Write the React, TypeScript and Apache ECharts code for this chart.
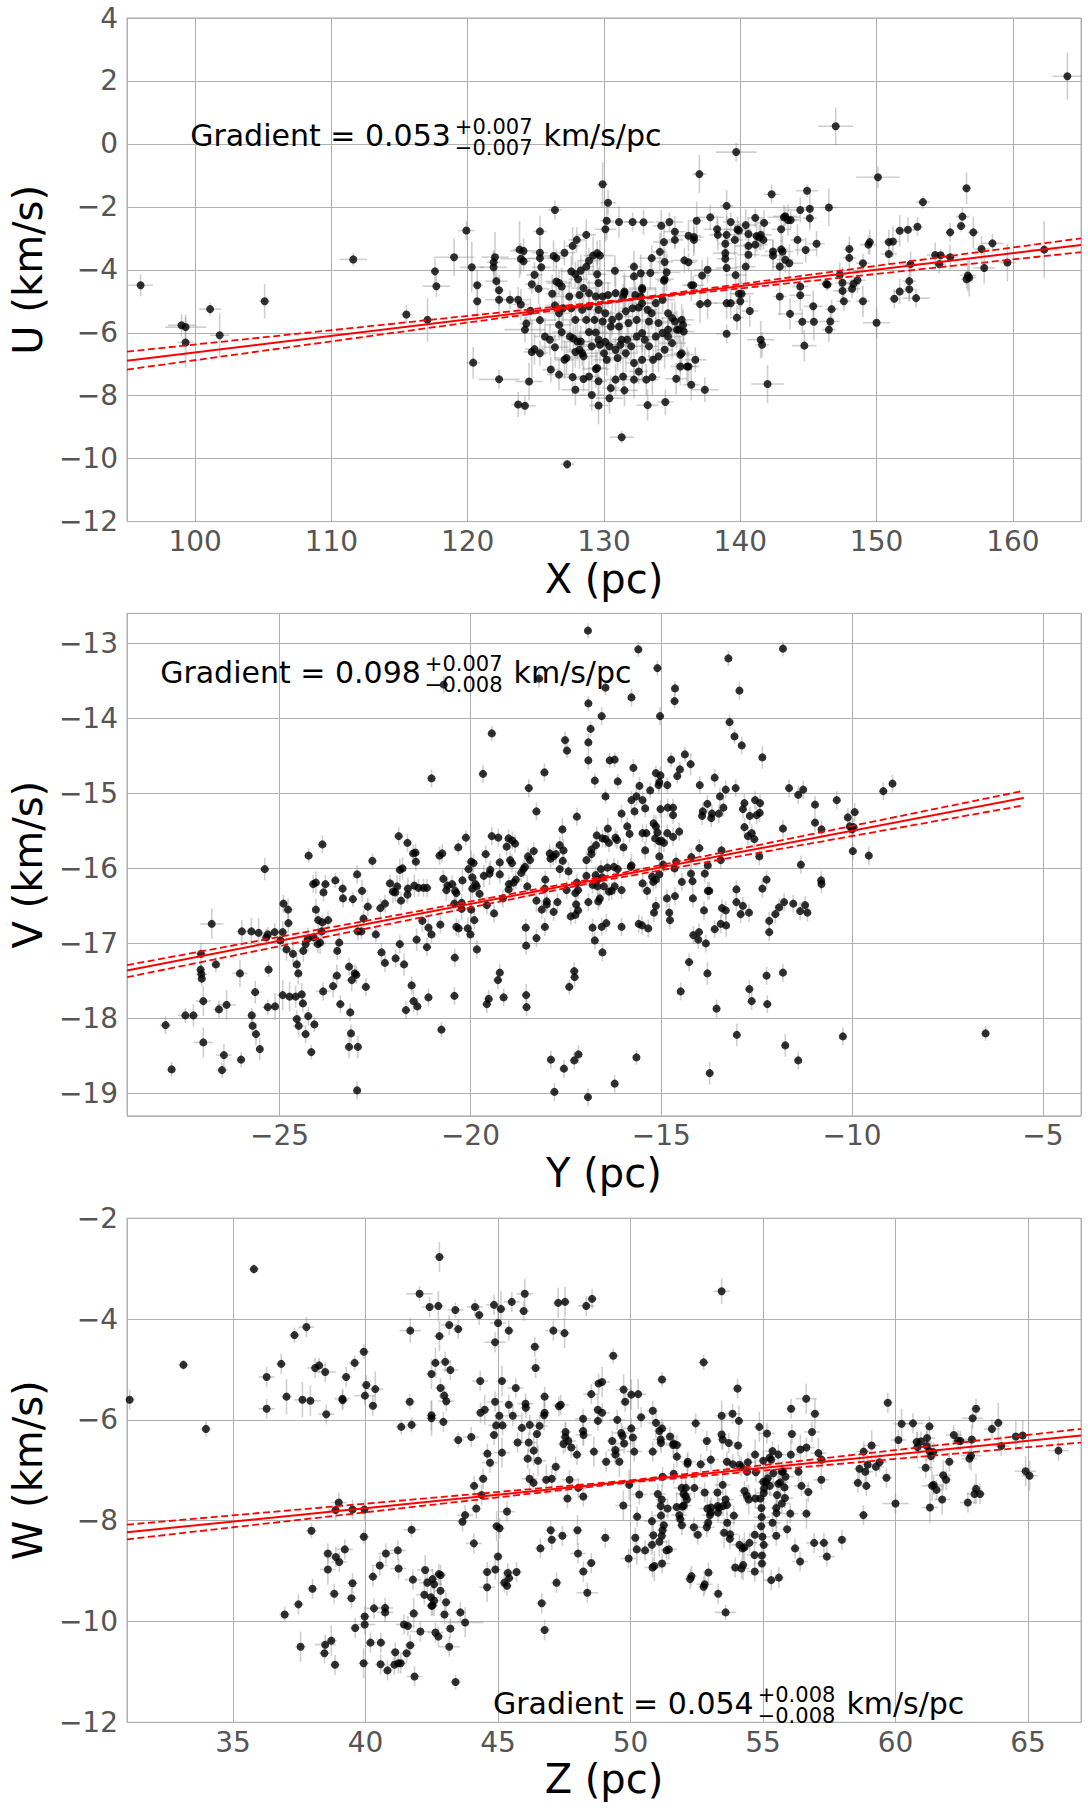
import React, { useEffect, useRef } from 'react';
import * as echarts from 'echarts';

const FONT = 'DejaVu Sans';

// ---------- Panel 1 : X (pc) vs U (km/s)  [x, y, xErr, yErr]
const xuData = [
[96.0,-4.49,0.9,0.35],[99.0,-5.76,1.0,0.35],[99.3,-5.82,1.5,0.4],[99.3,-6.31,0.6,0.8],[101.1,-5.25,0.8,0.2],[101.8,-6.08,0.7,0.7],[105.1,-5.0,0.4,0.55],[111.6,-3.67,1.0,0.2],[115.5,-5.42,0.4,0.3],[117.05,-5.59,0.4,0.7],[117.6,-4.05,0.3,0.4],[117.7,-4.52,1.0,0.35],[119.0,-3.6,1.5,0.6],[119.9,-2.75,0.6,0.3],[120.3,-3.92,0.9,0.8],[120.4,-6.95,0.5,0.5],[120.7,-4.49,0.4,0.5],[120.7,-5.0,0.3,0.6],[121.9,-3.92,1.0,0.5],[121.9,-3.76,0.5,0.4],[122.0,-3.6,1.0,0.8],[122.1,-4.36,0.8,0.4],[122.3,-4.65,0.4,0.5],[122.3,-4.95,1.0,0.6],[122.3,-7.48,1.5,0.3],[123.1,-4.95,0.6,0.3],[123.7,-4.95,0.8,0.4],[123.9,-5.1,0.6,0.5],[123.8,-3.36,0.5,0.9],[124.1,-3.4,1.0,0.4],[123.9,-3.65,1.5,0.5],[124.1,-3.73,0.5,0.3],[123.7,-8.28,0.5,0.4],[124.2,-8.32,0.8,0.3],[124.5,-7.55,1.0,0.6],[124.7,-6.61,0.6,1.0],[124.7,-4.46,0.5,0.3],[124.2,-5.9,1.5,0.4],[124.6,-5.3,1.0,0.4],[125.3,-2.78,0.5,0.5],[125.3,-3.46,0.6,0.5],[125.3,-3.63,0.9,0.4],[125.4,-3.92,0.7,0.6],[125.3,-5.6,1.2,0.5],[125.3,-6.65,0.6,0.4],
[124.9,-4.16,0.6,0.4],[125.2,-4.6,0.8,0.5],[124.3,-5.71,0.5,0.3],[124.9,-6.52,0.7,0.5],
[139.7,-0.26,1.5,0.3],[137.0,-0.96,0.5,0.6],[129.9,-1.28,0.4,0.7],[130.3,-1.87,0.6,0.4],[126.4,-2.1,0.5,0.3],[142.3,-1.6,0.6,0.3],[144.9,-1.49,0.8,0.2],[139.0,-1.97,0.5,0.5],[144.4,-2.1,1.0,0.4],[145.1,-2.06,0.3,0.6],[145.1,-2.36,0.5,0.4],
[143.3,-2.3,0.9,0.3],[143.5,-2.42,0.7,0.5],[143.7,-2.42,0.6,0.3],[143.2,-2.33,1.2,0.4],
[141.1,-2.35,0.6,0.3],[141.75,-2.51,0.5,0.4],[140.4,-2.58,0.8,0.5],[139.3,-2.48,0.6,0.3],[137.8,-2.33,1.0,0.4],[136.8,-2.44,0.5,0.6],[134.8,-2.48,1.0,0.3],[134.2,-2.6,0.6,0.5],[132.9,-2.49,0.8,0.4],[132.1,-2.48,0.6,0.3],[131.1,-2.48,0.9,0.5],[130.2,-2.44,0.5,0.6],[130.1,-2.71,0.8,0.4],
[128.7,-2.89,0.7,0.5],[128.0,-3.05,0.6,0.4],[127.7,-3.24,0.5,0.6],[127.1,-3.46,0.8,0.4],[126.3,-3.56,1.0,0.5],[126.5,-3.63,0.6,0.3],
[126.4,-5.13,0.7,0.5],[126.2,-4.76,0.5,0.6],[126.7,-4.42,0.9,0.4],
[127.6,-4.05,0.8,0.5],[127.9,-4.14,0.6,0.4],[128.3,-4.02,1.0,0.5],[128.1,-4.3,0.7,0.6],[128.2,-4.8,0.5,0.4],[128.5,-4.58,0.9,0.5],
[128.7,-3.9,0.6,0.5],[128.9,-3.71,0.8,0.4],[129.2,-3.55,0.7,0.6],[129.5,-3.47,0.5,0.4],[129.7,-3.55,1.0,0.5],
[129.5,-4.14,0.7,0.6],[129.6,-4.42,0.9,0.5],
[130.8,-4.03,0.6,0.5],[131.5,-4.69,0.8,0.6],[131.4,-4.85,1.1,0.4],
[132.2,-3.9,0.5,0.5],[132.2,-4.21,0.9,0.4],[132.7,-4.11,0.6,0.6],[132.8,-4.58,1.0,0.5],[132.7,-4.85,0.7,0.4],[132.55,-5.2,0.8,0.5],
[133.4,-4.1,0.6,0.5],[133.5,-3.63,0.9,0.4],[134.1,-3.43,0.5,0.6],[134.4,-3.12,0.8,0.5],[134.45,-3.75,0.6,0.4],[134.6,-4.08,1.0,0.6],[134.45,-4.3,0.7,0.4],[134.4,-4.35,0.5,0.5],
[135.2,-2.79,0.8,0.5],[135.2,-3.05,0.6,0.3],[136.2,-2.92,0.9,0.5],[136.6,-3.05,0.5,0.4],[136.6,-2.96,0.7,0.6],[135.9,-3.7,1.0,0.4],[136.2,-3.76,0.6,0.3],[136.4,-4.49,0.5,0.5],[136.55,-4.49,0.8,0.3],
[137.2,-4.18,0.6,0.5],[137.05,-5.09,0.5,0.6],[137.6,-4.0,1.0,0.4],[137.6,-5.06,0.7,0.5],
[138.3,-2.71,1.0,0.4],[138.35,-2.89,0.6,0.5],[139.0,-2.89,0.8,0.6],[138.9,-3.17,0.5,0.4],[138.9,-3.47,0.9,0.5],[138.9,-3.65,0.6,0.4],[139.0,-3.94,0.8,0.6],
[139.6,-3.05,0.6,0.5],[139.8,-2.72,1.0,0.4],[139.9,-2.75,0.5,0.3],[139.66,-4.17,0.8,0.6],[139.75,-5.52,0.5,0.4],[139.0,-5.06,0.9,0.5],[139.3,-5.06,0.6,0.4],[139.0,-6.03,0.8,0.3],
[139.9,-4.76,0.5,0.5],[140.1,-4.76,0.9,0.4],[140.0,-5.0,0.6,0.5],[140.4,-3.9,0.7,0.6],[140.6,-3.24,1.0,0.4],[140.6,-2.86,0.6,0.5],[140.6,-3.52,0.8,0.3],[141.2,-2.93,0.5,0.5],[141.1,-3.2,0.9,0.4],[141.7,-3.05,0.6,0.3],[141.5,-2.89,0.8,0.5],[141.4,-2.97,0.5,0.4],
[140.7,-5.31,0.6,0.5],[141.5,-6.22,1.0,0.6],[141.6,-6.38,0.5,0.4],[142.0,-7.63,1.2,0.6],
[142.4,-3.42,0.6,0.4],[142.4,-3.55,0.9,0.5],[143.0,-3.35,0.5,0.3],[143.1,-3.42,0.8,0.5],[143.3,-3.68,0.6,0.4],[143.6,-3.79,1.0,0.6],[143.0,-2.71,0.7,0.4],[144.2,-3.05,0.5,0.5],[144.8,-3.37,0.8,0.4],
[142.9,-3.9,0.6,0.5],[142.9,-4.85,0.5,0.6],[143.65,-5.4,0.9,0.5],[144.4,-4.53,0.6,0.4],[144.4,-4.81,0.8,0.5],[144.55,-5.65,0.5,0.4],[145.35,-5.16,0.7,0.5],[145.4,-5.65,0.5,0.6],[144.7,-6.41,0.9,0.5],[145.6,-3.17,0.6,0.4],
[126.7,-5.75,1.0,0.5],[126.9,-5.98,0.7,0.6],[127.5,-6.12,0.9,0.5],[127.75,-6.18,0.6,0.4],[128.05,-6.28,1.1,0.6],[128.3,-6.28,0.7,0.5],[128.2,-6.54,0.9,0.6],[127.9,-6.61,0.6,0.5],[128.5,-6.75,1.0,0.4],[128.9,-5.98,0.7,0.6],[129.4,-5.99,0.9,0.5],[129.6,-6.22,0.6,0.4],[129.7,-6.38,1.2,0.6],[130.1,-6.29,0.8,0.5],[130.4,-6.43,0.6,0.6],[130.2,-6.86,1.0,0.5],[130.85,-6.54,0.7,0.4],[131.2,-6.38,0.9,0.6],[131.3,-6.22,0.6,0.5],[131.7,-6.22,1.1,0.6],[132.0,-6.43,0.7,0.4],[132.4,-6.12,0.9,0.5],[132.8,-6.01,0.6,0.6],[133.0,-6.22,1.0,0.5],[133.3,-6.43,0.7,0.4],[133.8,-6.12,0.8,0.6],[134.3,-6.01,0.6,0.5],[134.7,-6.12,1.0,0.4],[135.35,-5.9,0.7,0.6],[135.7,-5.59,0.9,0.5],[135.5,-5.9,0.6,0.4],[135.85,-5.96,0.8,0.5],[135.6,-6.7,1.0,0.6],[135.7,-6.65,0.6,0.4],[136.2,-7.07,0.8,0.5],[135.6,-7.07,0.7,0.6],[136.4,-7.65,0.6,0.5],[137.4,-7.81,1.0,0.4],[135.3,-7.46,0.8,0.5],[134.5,-8.2,0.6,0.4],[133.2,-8.3,0.8,0.5],[133.55,-7.41,0.6,0.6],[133.1,-7.49,0.9,0.5],[132.55,-7.23,0.7,0.4],[132.2,-7.49,0.6,0.6],[131.5,-7.83,1.0,0.5],[131.4,-7.39,0.7,0.6],[130.85,-7.49,0.8,0.5],[130.5,-7.76,0.6,0.4],[130.4,-8.08,1.0,0.5],[129.6,-8.31,0.7,0.6],[129.1,-7.98,0.9,0.5],[129.6,-7.54,0.6,0.4],[129.4,-7.15,1.0,0.6],[129.5,-7.12,0.7,0.5],[128.9,-7.39,0.8,0.6],[128.5,-7.47,0.6,0.4],[127.9,-7.81,1.0,0.5],[127.7,-7.41,0.7,0.6],[126.7,-7.33,0.9,0.5],[126.1,-7.17,0.6,0.4],[125.67,-6.12,0.8,0.6],[126.03,-6.22,0.6,0.5],[126.4,-6.46,1.0,0.4],[127.1,-6.86,0.7,0.6],[127.25,-6.8,0.9,0.5],[128.4,-6.65,0.6,0.4],[129.1,-6.43,0.8,0.6],[130.0,-6.65,1.0,0.5],[131.0,-6.8,0.7,0.4],[131.6,-6.65,0.9,0.6],[132.2,-6.96,0.6,0.5],[132.8,-6.86,1.0,0.6],[133.6,-6.86,0.7,0.4],[134.0,-6.75,0.8,0.5],[134.45,-6.54,0.6,0.6],[135.0,-6.33,1.0,0.5],[134.7,-5.9,0.7,0.4],[135.2,-5.64,0.9,0.6],[135.8,-5.75,0.6,0.5],[136.7,-6.86,0.8,0.4],[136.1,-7.07,0.7,0.6],[131.3,-9.32,0.9,0.2],[127.3,-10.18,0.5,0.15],
[126.5,-4.37,0.8,0.5],[126.9,-4.53,0.6,0.6],[127.45,-4.85,1.0,0.5],[128.9,-4.74,0.7,0.4],[129.4,-4.85,0.9,0.6],[129.9,-4.85,0.6,0.5],[130.3,-4.8,1.0,0.4],[130.85,-4.74,0.7,0.6],[131.5,-4.74,0.8,0.5],[132.3,-4.8,0.6,0.4],[132.8,-4.63,1.0,0.6],[133.8,-5.06,0.7,0.5],[134.3,-4.95,0.9,0.4],[134.7,-5.38,0.6,0.6],[135.0,-5.53,0.8,0.5],[132.8,-5.06,1.0,0.4],[133.2,-5.27,0.7,0.6],[132.1,-5.22,0.9,0.5],[131.6,-5.32,0.6,0.4],[131.1,-5.48,1.0,0.6],[130.6,-5.59,0.7,0.5],[130.1,-5.38,0.8,0.4],[129.6,-5.27,0.6,0.6],[128.9,-5.16,1.0,0.5],[128.4,-5.27,0.7,0.4],[127.9,-5.59,0.9,0.6],[127.6,-5.22,0.6,0.5],[126.7,-5.38,0.8,0.4],[127.0,-5.22,0.7,0.6],[128.7,-5.59,1.0,0.5],[129.3,-5.59,0.6,0.4],[129.9,-5.64,0.9,0.6],[130.5,-5.8,0.7,0.5],[131.1,-5.8,1.0,0.4],[131.8,-5.69,0.6,0.6],[132.4,-5.59,0.8,0.5],[133.3,-5.64,0.7,0.4],[134.0,-5.69,0.9,0.6],[133.5,-5.38,0.6,0.5],
[164.0,2.15,1.1,0.75],[147.0,0.56,1.3,0.6],[150.1,-1.06,1.6,0.35],[153.4,-1.85,0.5,0.2],[156.6,-1.41,0.3,0.5],[146.5,-2.02,0.6,0.6],[156.3,-2.31,0.5,0.3],[156.2,-2.61,0.4,0.2],[155.4,-2.81,0.3,0.3],[157.1,-2.81,0.4,0.5],[158.5,-3.16,0.8,0.3],[157.7,-3.34,0.6,0.4],
[151.7,-2.76,0.4,0.5],[153.0,-2.63,0.4,0.3],[152.3,-2.73,0.6,0.4],[150.9,-3.12,0.4,0.4],[151.2,-3.1,0.5,0.5],[149.5,-3.12,0.3,0.4],[149.4,-3.2,0.6,0.3],[148.0,-3.34,0.4,0.4],[148.0,-3.62,0.5,0.5],[149.0,-3.79,0.5,0.3],[150.9,-3.5,0.6,0.3],
[152.5,-3.82,0.8,0.4],[154.6,-3.82,0.5,0.3],[154.3,-3.53,0.6,0.4],[154.7,-3.54,0.5,0.2],[155.4,-3.6,0.6,0.4],[157.9,-3.94,0.8,0.5],[159.6,-3.77,0.6,0.6],[162.3,-3.36,1.0,0.9],
[156.7,-4.18,0.6,0.5],[156.8,-4.25,0.5,0.6],[156.6,-4.3,0.4,0.3],[152.4,-4.36,0.5,0.6],[152.4,-4.62,0.4,0.4],[151.7,-4.69,0.5,0.4],[151.3,-4.92,0.4,0.3],[152.9,-4.9,1.0,0.3],[150.0,-5.68,1.0,0.5],
[146.3,-4.45,0.5,0.2],[146.4,-4.47,0.3,0.2],[147.3,-4.16,0.5,0.4],[147.5,-4.41,0.5,0.5],[147.5,-4.67,0.7,0.4],[147.6,-5.0,0.5,0.3],[148.2,-4.6,0.6,0.3],[148.3,-4.45,0.5,0.3],[148.6,-4.33,0.6,0.4],[149.0,-5.0,0.5,0.5],
[146.7,-5.25,0.5,0.3],[146.6,-5.64,0.7,0.4],[146.5,-5.9,0.5,0.4]
];
const xuFitX = [95, 132, 165];
const xuFit = [-6.89, -4.94, -3.21];
const xuFitHi = [-6.60, -4.92, -3.00];
const xuFitLo = [-7.17, -4.96, -3.44];

// ---------- Panel 2 : Y (pc) vs V (km/s)  [x, y, xErr, yErr]
const yvData = [
[-27.99,-18.09,0.15,0.12],[-27.83,-18.68,0.12,0.1],[-27.47,-17.96,0.2,0.1],[-27.26,-17.96,0.15,0.15],[-27.0,-18.32,0.25,0.2],[-27.0,-17.77,0.2,0.2],[-27.06,-17.14,0.15,0.15],[-27.07,-17.35,0.12,0.1],[-27.05,-17.41,0.15,0.12],[-27.04,-17.47,0.12,0.1],[-26.78,-16.74,0.3,0.2],[-26.67,-17.28,0.12,0.1],[-26.59,-17.88,0.15,0.12],[-26.39,-17.82,0.25,0.2],[-26.46,-18.49,0.2,0.15],[-26.51,-18.69,0.15,0.1],[-26.04,-17.4,0.2,0.18],[-26.01,-18.55,0.12,0.1],[-25.99,-16.84,0.15,0.15],[-25.74,-16.84,0.15,0.18],[-25.55,-16.86,0.15,0.2],[-25.64,-17.65,0.12,0.15],[-25.73,-17.96,0.12,0.1],[-25.71,-18.1,0.1,0.12],[-25.62,-18.21,0.12,0.15],[-25.52,-18.41,0.1,0.15],[-25.39,-16.01,0.12,0.15],[-25.35,-16.92,0.15,0.12],[-25.31,-16.88,0.12,0.1],[-25.13,-16.85,0.15,0.12],[-25.29,-17.35,0.12,0.1],[-25.31,-17.85,0.15,0.1],[-25.12,-17.84,0.12,0.18],
[-24.92,-16.85,0.15,0.15],[-24.98,-16.96,0.12,0.12],[-24.9,-16.47,0.12,0.12],[-24.78,-16.55,0.15,0.15],[-24.77,-16.73,0.12,0.12],[-24.82,-17.08,0.15,0.15],[-24.65,-17.14,0.12,0.18],[-24.55,-17.28,0.12,0.12],[-24.51,-17.4,0.12,0.15],[-24.92,-17.69,0.15,0.2],[-24.74,-17.71,0.15,0.2],[-24.58,-17.71,0.12,0.15],[-24.42,-17.68,0.12,0.15],[-24.39,-17.8,0.12,0.12],[-24.55,-18.01,0.12,0.12],[-24.5,-18.1,0.15,0.15],[-24.32,-18.21,0.12,0.12],[-24.25,-17.97,0.12,0.12],[-24.09,-18.08,0.12,0.1],[-24.17,-18.45,0.12,0.1],[-24.38,-17.1,0.15,0.15],[-24.32,-17.01,0.12,0.12],[-24.26,-16.94,0.15,0.15],[-24.11,-16.92,0.12,0.12],[-24.24,-15.83,0.12,0.1],[-23.88,-15.68,0.12,0.12],[-24.12,-16.21,0.12,0.12],[-24.05,-16.19,0.1,0.15],[-23.8,-16.21,0.12,0.12],[-23.85,-16.32,0.1,0.12],[-24.05,-16.55,0.1,0.15],[-23.99,-16.69,0.12,0.12],[-23.88,-16.72,0.12,0.1],[-23.73,-16.69,0.12,0.12],[-24.0,-17.01,0.12,0.12],[-23.94,-16.99,0.15,0.15],[-23.9,-16.84,0.12,0.12],[-23.86,-17.64,0.2,0.12],[-23.6,-17.57,0.12,0.15],[-23.54,-16.16,0.12,0.1],[-23.35,-16.27,0.12,0.12],[-23.34,-16.4,0.1,0.12],[-23.44,-16.99,0.12,0.15],[-23.49,-17.1,0.1,0.12],[-23.5,-17.43,0.12,0.15],[-23.41,-17.81,0.12,0.12],[-23.15,-17.92,0.12,0.12],[-23.13,-18.2,0.1,0.12],[-23.18,-18.38,0.12,0.15],[-22.95,-18.38,0.12,0.15],[-22.97,-18.96,0.1,0.12],[-23.08,-16.41,0.12,0.1],[-22.97,-16.08,0.12,0.12],[-22.84,-16.3,0.15,0.15],[-23.18,-17.31,0.12,0.12],[-23.03,-17.4,0.12,0.12],[-22.99,-17.42,0.12,0.12],[-23.11,-17.49,0.15,0.15],[-22.74,-17.58,0.12,0.12],[-22.95,-16.84,0.15,0.12],[-22.86,-16.84,0.12,0.1],[-22.8,-16.67,0.12,0.12],[-22.69,-16.51,0.15,0.12],[-22.57,-15.9,0.12,0.1],[-22.48,-16.88,0.12,0.1],[-22.36,-16.53,0.12,0.12],[-22.24,-16.47,0.12,0.12],[-22.33,-17.12,0.12,0.12],[-22.24,-17.26,0.12,0.12],
[-22.11,-16.2,0.12,0.12],[-22.03,-16.31,0.12,0.15],[-21.97,-16.32,0.12,0.12],[-21.92,-16.24,0.12,0.15],[-21.88,-15.57,0.12,0.12],[-21.85,-16.02,0.12,0.15],[-21.78,-16.0,0.12,0.15],[-21.82,-16.43,0.15,0.12],[-21.65,-15.66,0.12,0.12],[-21.64,-16.27,0.12,0.15],[-21.65,-16.35,0.12,0.12],[-21.5,-15.8,0.12,0.12],[-21.44,-15.79,0.12,0.12],[-21.43,-15.91,0.12,0.12],[-21.47,-16.23,0.12,0.15],[-21.36,-16.26,0.12,0.12],[-21.23,-16.26,0.12,0.12],[-21.14,-16.26,0.12,0.12],[-21.85,-17.01,0.12,0.12],[-21.96,-17.2,0.12,0.12],[-21.74,-17.28,0.12,0.15],[-21.54,-17.56,0.12,0.12],[-21.49,-17.77,0.12,0.15],[-21.39,-17.84,0.12,0.12],[-21.69,-17.89,0.12,0.12],[-21.41,-16.95,0.12,0.15],[-21.26,-16.7,0.12,0.15],[-21.1,-16.79,0.12,0.12],[-21.02,-16.88,0.12,0.12],[-21.14,-17.05,0.12,0.12],[-21.1,-17.72,0.12,0.12],[-21.02,-14.8,0.12,0.12],
[-20.81,-15.83,0.12,0.12],[-20.74,-15.8,0.12,0.12],[-20.71,-16.14,0.12,0.12],[-20.6,-16.23,0.12,0.12],[-20.63,-16.29,0.12,0.15],[-20.48,-16.21,0.12,0.12],[-20.4,-16.3,0.12,0.12],[-20.37,-16.33,0.12,0.12],[-20.79,-16.75,0.12,0.12],[-20.42,-16.47,0.12,0.12],[-20.23,-16.46,0.12,0.12],[-20.23,-16.54,0.12,0.15],[-20.37,-16.78,0.12,0.12],[-20.31,-16.8,0.12,0.12],[-20.07,-16.8,0.12,0.15],[-20.0,-16.88,0.12,0.12],[-20.41,-17.19,0.12,0.12],[-20.42,-17.7,0.12,0.12],[-20.76,-18.15,0.12,0.1],[-20.32,-15.72,0.12,0.1],[-20.12,-15.59,0.12,0.1],[-20.21,-16.16,0.12,0.15],[-20.05,-16.01,0.12,0.12],[-19.98,-15.91,0.15,0.15],[-19.92,-15.93,0.12,0.12],[-19.95,-16.12,0.12,0.15],[-19.95,-16.27,0.12,0.12],[-19.87,-16.21,0.12,0.12],[-19.84,-16.24,0.12,0.12],[-19.76,-16.34,0.12,0.15],[-19.98,-16.55,0.12,0.12],[-19.9,-16.69,0.12,0.12],[-19.83,-17.08,0.12,0.12],[-19.67,-14.74,0.12,0.12],[-19.6,-15.81,0.12,0.12],[-19.65,-16.1,0.12,0.15],[-19.5,-16.07,0.12,0.15],[-19.48,-16.02,0.12,0.12],[-19.57,-16.49,0.12,0.12],[-19.38,-16.6,0.12,0.12],[-19.44,-14.2,0.12,0.1],[-19.44,-15.57,0.12,0.12],[-19.27,-15.59,0.12,0.12],[-19.23,-15.92,0.12,0.12],[-19.23,-16.08,0.12,0.12],[-19.15,-16.4,0.12,0.12],[-19.05,-15.71,0.12,0.12],[-18.96,-15.89,0.12,0.12],[-18.91,-15.93,0.12,0.12],[-19.0,-15.6,0.12,0.12],[-18.9,-15.63,0.12,0.12],[-18.83,-15.67,0.12,0.12],[-18.99,-16.21,0.12,0.12],[-19.0,-16.28,0.12,0.12],[-18.87,-16.19,0.12,0.12],[-18.81,-16.15,0.12,0.12],[-19.23,-17.39,0.12,0.12],[-19.28,-17.49,0.12,0.12],[-19.52,-17.74,0.12,0.12],[-19.57,-17.81,0.12,0.12],[-19.13,-17.72,0.12,0.12],
[-18.67,-16.06,0.12,0.12],[-18.61,-16.01,0.12,0.12],[-18.57,-15.98,0.12,0.12],[-18.49,-15.84,0.12,0.12],[-18.44,-15.89,0.12,0.12],[-18.51,-16.24,0.12,0.15],[-18.34,-15.77,0.12,0.12],[-18.55,-16.79,0.12,0.12],[-18.54,-17.03,0.12,0.12],[-18.27,-16.43,0.12,0.15],[-18.27,-15.24,0.12,0.12],[-18.47,-14.93,0.12,0.12],[-18.27,-16.93,0.12,0.12],[-18.54,-17.69,0.12,0.15],[-18.53,-17.85,0.12,0.12],[-18.13,-16.55,0.12,0.12],[-18.0,-16.44,0.12,0.12],[-18.0,-16.48,0.12,0.12],[-18.04,-16.15,0.12,0.12],[-18.05,-16.27,0.12,0.15],[-18.05,-16.78,0.12,0.12],[-18.06,-14.72,0.12,0.12],[-17.92,-15.8,0.12,0.12],[-17.9,-15.87,0.12,0.12],[-17.83,-15.84,0.12,0.12],[-17.76,-15.81,0.12,0.12],[-17.66,-15.69,0.12,0.12],[-17.56,-15.76,0.12,0.15],[-17.58,-15.9,0.12,0.12],[-17.66,-16.01,0.12,0.12],[-17.43,-16.04,0.12,0.12],[-17.48,-16.29,0.12,0.12],[-17.72,-16.45,0.12,0.12],[-17.82,-16.58,0.12,0.12],[-17.59,-15.48,0.12,0.15],[-17.52,-14.29,0.12,0.12],[-17.47,-14.43,0.12,0.1],[-17.37,-16.64,0.12,0.12],[-17.25,-16.62,0.12,0.12],[-17.18,-16.56,0.12,0.12],[-17.23,-16.48,0.12,0.12],[-17.25,-16.33,0.12,0.12],[-17.21,-16.19,0.12,0.12],[-17.18,-16.29,0.12,0.12],[-17.21,-15.31,0.12,0.12],[-17.41,-17.58,0.12,0.1],[-17.27,-17.45,0.12,0.12],[-17.28,-17.37,0.12,0.12],[-17.89,-18.55,0.12,0.12],[-17.55,-18.67,0.12,0.12],[-17.28,-18.56,0.12,0.12],[-17.17,-18.48,0.12,0.12],[-17.8,-18.98,0.12,0.12],
[-20.7,-13.55,0.12,0.12],[-18.2,-13.47,0.12,0.12],
[-16.92,-12.83,0.1,0.1],[-15.6,-13.08,0.1,0.1],[-15.1,-13.33,0.1,0.1],[-16.46,-13.59,0.1,0.1],[-15.78,-13.72,0.1,0.12],[-16.91,-13.8,0.1,0.1],[-16.56,-13.97,0.1,0.12],[-15.03,-13.97,0.1,0.12],[-14.64,-13.6,0.1,0.1],[-14.65,-13.77,0.1,0.1],[-13.24,-13.2,0.1,0.1],[-12.95,-13.63,0.1,0.12],[-11.81,-13.07,0.1,0.1],[-13.21,-14.05,0.1,0.1],[-13.08,-14.24,0.1,0.1],[-12.89,-14.36,0.1,0.12],[-12.35,-14.52,0.1,0.15],[-16.85,-14.14,0.1,0.1],[-16.91,-14.32,0.1,0.12],[-16.91,-14.56,0.1,0.12],[-16.35,-14.56,0.1,0.1],[-16.22,-14.55,0.1,0.1],[-16.74,-14.83,0.1,0.1],[-16.14,-14.84,0.1,0.1],[-15.73,-14.66,0.1,0.12],[-16.46,-15.04,0.1,0.1],[-14.74,-14.55,0.1,0.1],[-14.38,-14.48,0.1,0.1],[-14.23,-14.61,0.1,0.15],[-14.51,-14.68,0.1,0.1],[-14.58,-14.77,0.1,0.1],[-15.14,-14.73,0.1,0.1],[-15.02,-14.76,0.1,0.12],[-15.05,-14.85,0.1,0.12],[-15.07,-14.89,0.1,0.12],[-14.84,-14.89,0.1,0.1],[-15.57,-14.9,0.1,0.12],[-15.29,-14.96,0.1,0.1],[-15.65,-15.04,0.1,0.12],[-15.49,-15.09,0.1,0.12],[-15.78,-15.09,0.1,0.12],[-15.7,-15.24,0.1,0.1],[-15.42,-15.2,0.1,0.12],[-16.04,-15.27,0.1,0.12],[-15.89,-15.44,0.1,0.12],[-15.83,-15.54,0.1,0.12],[-15.99,-15.72,0.1,0.12],[-16.4,-15.47,0.1,0.15],[-16.69,-15.56,0.1,0.12],[-16.54,-15.6,0.1,0.12],[-16.46,-15.61,0.1,0.12],[-16.37,-15.66,0.1,0.12],[-16.2,-15.59,0.1,0.12],[-16.16,-15.62,0.1,0.12],[-16.83,-15.75,0.1,0.12],[-16.96,-15.89,0.1,0.12],[-16.83,-15.81,0.1,0.12],[-16.71,-15.69,0.1,0.12],[-15.02,-15.21,0.1,0.12],[-14.83,-15.19,0.1,0.12],[-14.69,-15.19,0.1,0.12],[-14.69,-15.29,0.1,0.12],[-15.2,-15.4,0.1,0.12],[-15.14,-15.44,0.1,0.15],[-15.1,-15.52,0.1,0.12],[-15.16,-15.6,0.1,0.12],[-15.05,-15.64,0.1,0.15],[-15.0,-15.63,0.1,0.12],[-14.84,-15.53,0.1,0.12],[-14.53,-15.51,0.1,0.12],[-14.69,-15.58,0.1,0.12],[-14.93,-15.66,0.1,0.12],[-15.49,-15.53,0.1,0.12],[-15.39,-15.53,0.1,0.12],[-15.42,-15.76,0.1,0.12],[-15.05,-15.84,0.1,0.12],[-14.95,-15.95,0.1,0.12],[-14.61,-15.91,0.1,0.12],[-14.65,-16.0,0.1,0.12],[-15.78,-15.96,0.1,0.15],[-15.8,-15.98,0.1,0.12],[-16.24,-15.98,0.1,0.12],[-16.14,-16.01,0.1,0.12],[-16.41,-15.99,0.1,0.12],[-16.58,-16.01,0.1,0.12],[-16.96,-16.1,0.1,0.12],[-16.72,-16.09,0.1,0.12],[-16.67,-16.15,0.1,0.12],[-16.54,-16.12,0.1,0.12],[-16.8,-16.22,0.1,0.12],[-16.67,-16.24,0.1,0.12],[-16.5,-16.24,0.1,0.12],[-16.37,-16.31,0.1,0.12],[-16.3,-16.3,0.1,0.12],[-16.22,-16.24,0.1,0.12],[-16.04,-16.29,0.1,0.12],[-16.91,-16.45,0.1,0.12],[-16.65,-16.44,0.1,0.12],[-16.61,-16.4,0.1,0.12],[-16.8,-16.79,0.1,0.12],[-16.56,-16.78,0.1,0.12],[-16.44,-16.73,0.1,0.12],[-16.74,-16.96,0.1,0.12],[-16.54,-17.12,0.1,0.12],[-16.04,-16.78,0.1,0.12],[-15.59,-16.74,0.1,0.12],[-15.5,-16.76,0.1,0.12],[-15.34,-16.8,0.1,0.12],[-15.49,-16.2,0.1,0.12],[-15.37,-16.3,0.1,0.12],[-15.24,-16.11,0.1,0.12],[-15.21,-16.18,0.1,0.12],[-15.14,-16.15,0.1,0.12],[-15.05,-16.08,0.1,0.12],[-15.19,-16.59,0.1,0.12],[-15.14,-16.5,0.1,0.12],[-14.85,-16.4,0.1,0.12],[-14.79,-16.59,0.1,0.12],[-14.77,-16.69,0.1,0.12],[-14.64,-16.37,0.1,0.12],[-14.46,-16.18,0.1,0.12],[-14.22,-16.07,0.1,0.12],[-14.18,-16.17,0.1,0.12],[-14.17,-16.4,0.1,0.12],[-14.21,-15.85,0.1,0.12],[-14.0,-15.73,0.1,0.12],[-13.99,-14.89,0.1,0.12],[-13.93,-15.3,0.1,0.12],[-13.91,-15.24,0.1,0.12],[-13.79,-15.14,0.1,0.12],[-13.67,-15.27,0.1,0.12],[-13.69,-15.33,0.1,0.12],[-13.6,-14.79,0.1,0.12],[-13.46,-15.04,0.1,0.12],[-13.37,-15.19,0.1,0.12],[-13.49,-15.27,0.1,0.12],[-13.31,-14.95,0.1,0.12],[-13.05,-14.93,0.1,0.12],[-13.78,-15.96,0.1,0.12],[-13.86,-16.07,0.1,0.12],[-13.78,-16.3,0.1,0.12],[-13.74,-16.3,0.1,0.12],[-13.88,-16.56,0.1,0.12],[-13.42,-15.76,0.1,0.12],[-13.44,-15.89,0.1,0.12],[-14.16,-16.89,0.1,0.12],[-14.01,-16.85,0.1,0.12],[-14.03,-16.95,0.1,0.12],[-13.83,-17.0,0.1,0.12],[-13.6,-16.81,0.1,0.12],[-13.44,-16.74,0.1,0.12],[-13.3,-16.76,0.1,0.15],[-13.41,-16.53,0.1,0.12],[-13.31,-16.56,0.1,0.12],[-13.03,-16.28,0.1,0.12],[-13.03,-16.45,0.1,0.12],[-12.86,-16.5,0.1,0.12],[-12.92,-16.61,0.1,0.12],[-12.7,-16.59,0.1,0.12],[-12.82,-15.13,0.1,0.12],[-12.86,-15.21,0.1,0.12],[-12.82,-15.45,0.1,0.12],[-12.73,-15.57,0.1,0.12],[-12.63,-15.53,0.1,0.12],[-12.56,-15.61,0.1,0.12],[-12.68,-15.3,0.1,0.12],[-12.54,-15.09,0.1,0.12],[-12.41,-15.13,0.1,0.12],[-12.42,-15.26,0.1,0.12],[-12.5,-15.29,0.1,0.12],[-12.43,-15.84,0.1,0.12],[-12.24,-16.15,0.1,0.12],[-12.35,-16.27,0.1,0.12],[-12.17,-16.7,0.1,0.12],[-12.17,-16.85,0.1,0.12],[-12.01,-16.61,0.1,0.12],[-11.91,-16.52,0.1,0.12],[-11.78,-16.45,0.1,0.12],[-11.54,-16.47,0.1,0.12],[-11.36,-16.57,0.1,0.12],[-11.23,-16.49,0.1,0.12],[-11.17,-16.59,0.1,0.12],[-11.81,-15.47,0.1,0.12],[-11.65,-14.93,0.1,0.12],[-11.41,-15.02,0.1,0.12],[-11.28,-14.95,0.1,0.12],[-11.34,-15.95,0.1,0.12],[-10.97,-15.15,0.1,0.12],[-10.97,-15.39,0.1,0.12],[-10.8,-15.48,0.1,0.12],[-10.4,-15.09,0.1,0.12],[-10.81,-16.16,0.1,0.12],[-10.8,-16.21,0.1,0.12],[-10.11,-15.32,0.1,0.12],[-9.93,-15.25,0.1,0.12],[-10.06,-15.44,0.1,0.12],[-10.0,-15.48,0.1,0.12],[-9.96,-15.45,0.1,0.12],[-9.98,-15.77,0.1,0.12],[-9.56,-15.83,0.1,0.12],[-9.18,-14.97,0.1,0.12],[-8.94,-14.87,0.1,0.12],[-14.27,-17.25,0.1,0.12],[-13.79,-17.4,0.1,0.15],[-14.49,-17.64,0.1,0.12],[-13.55,-17.87,0.1,0.12],[-12.69,-17.61,0.1,0.12],[-12.63,-17.77,0.1,0.12],[-12.24,-17.43,0.1,0.12],[-12.22,-17.81,0.1,0.12],[-11.81,-17.39,0.1,0.12],[-13.02,-18.22,0.1,0.15],[-11.75,-18.36,0.1,0.15],[-11.41,-18.56,0.1,0.12],[-10.24,-18.24,0.1,0.12],[-6.5,-18.2,0.1,0.1],[-15.65,-18.52,0.1,0.1],[-16.22,-18.87,0.1,0.12],[-16.92,-19.05,0.1,0.12],[-13.73,-18.73,0.1,0.15]
];
const yvFitX = [-29, -16.5, -5.5];
const yvFit = [-17.36, -16.13, -15.06];
const yvFitHi = [-17.29, -16.11, -14.965];
const yvFitLo = [-17.45, -16.16, -15.16];

// ---------- Panel 3 : Z (pc) vs W (km/s)  [x, y, xErr, yErr]
const zwData = [
[42.79,-2.77,0.2,0.3],[35.79,-3.01,0.2,0.1],[42.04,-3.5,0.5,0.15],[42.42,-3.76,0.3,0.2],[42.75,-3.74,0.2,0.3],[43.39,-3.82,0.3,0.15],[44.13,-3.76,0.3,0.15],[44.29,-3.92,0.2,0.2],[44.85,-3.72,0.3,0.2],[45.11,-3.8,0.2,0.35],[45.52,-3.66,0.3,0.2],[46.01,-3.5,0.3,0.3],[45.97,-3.84,0.2,0.2],[47.27,-3.68,0.2,0.3],[47.53,-3.66,0.2,0.3],[48.33,-3.74,0.3,0.2],[48.55,-3.6,0.2,0.2],
[41.69,-4.23,0.4,0.25],[42.79,-4.34,0.2,0.3],[43.16,-4.12,0.3,0.2],[43.5,-4.2,0.2,0.2],[45.0,-4.08,0.3,0.3],[45.41,-4.23,0.2,0.2],[44.89,-4.46,0.4,0.2],[47.09,-4.23,0.3,0.2],[47.51,-4.28,0.2,0.3],[46.39,-4.55,0.2,0.2],[46.42,-4.97,0.2,0.2],[37.32,-4.32,0.2,0.15],[37.77,-4.16,0.3,0.2],[33.13,-4.91,0.2,0.1],[36.27,-5.15,0.3,0.2],[36.82,-4.89,0.2,0.2],[38.1,-4.97,0.3,0.2],[38.25,-4.92,0.2,0.15],[38.48,-5.05,0.4,0.2],[39.27,-5.15,0.2,0.2],[39.59,-4.87,0.2,0.15],[39.94,-4.65,0.2,0.15],[40.03,-5.31,0.2,0.2],[40.37,-5.39,0.3,0.35],[39.98,-5.52,0.4,0.2],[40.28,-5.72,0.2,0.2],[37.02,-5.54,0.2,0.35],[37.62,-5.6,0.3,0.35],[37.92,-5.62,0.4,0.3],[36.27,-5.78,0.3,0.2],[38.52,-5.89,0.3,0.2],[39.13,-5.58,0.3,0.2],[39.14,-5.61,0.2,0.2],[31.1,-5.6,0.2,0.2],[33.98,-6.18,0.2,0.15],
[42.64,-4.87,0.2,0.3],[43.01,-4.85,0.2,0.2],[43.2,-5.01,0.3,0.2],[42.49,-5.09,0.2,0.3],[42.83,-5.37,0.2,0.2],[42.97,-5.52,0.2,0.2],[43.05,-5.63,0.3,0.2],[41.67,-5.64,0.2,0.15],[42.49,-5.91,0.2,0.3],[42.49,-5.97,0.2,0.35],[42.94,-6.04,0.2,0.2],[41.74,-6.1,0.2,0.15],[41.35,-6.14,0.2,0.15],[44.33,-5.23,0.3,0.2],[45.15,-5.23,0.2,0.3],[45.67,-5.37,0.3,0.2],[44.89,-5.64,0.3,0.2],[45.41,-5.7,0.2,0.2],[46.04,-5.68,0.3,0.2],[46.05,-5.76,0.2,0.2],[44.5,-5.8,0.2,0.3],[44.34,-5.86,0.2,0.2],[45.05,-5.92,0.2,0.2],[45.56,-5.92,0.3,0.2],[46.76,-5.54,0.2,0.2],[47.37,-5.7,0.3,0.2],[47.3,-5.73,0.2,0.2],[46.76,-5.86,0.2,0.2],[46.74,-5.91,0.2,0.3],[48.8,-5.28,0.2,0.2],[48.52,-5.49,0.3,0.2],[48.77,-5.8,0.2,0.3],[48.77,-6.02,0.2,0.2],[48.21,-5.98,0.3,0.2],
[44.93,-6.11,0.3,0.2],[45.17,-6.11,0.2,0.2],[44.85,-6.3,0.2,0.2],[45.9,-6.16,0.2,0.3],[46.2,-6.1,0.2,0.2],[46.57,-6.12,0.3,0.2],[46.47,-6.28,0.2,0.3],[45.74,-6.45,0.2,0.2],[46.16,-6.45,0.3,0.2],[46.35,-6.61,0.2,0.3],[46.12,-6.77,0.2,0.2],[46.51,-6.81,0.3,0.3],[43.5,-6.4,0.2,0.15],[43.99,-6.34,0.3,0.2],[44.6,-6.67,0.2,0.2],[44.7,-6.85,0.3,0.2],[45.15,-6.65,0.3,0.3],[47.55,-6.24,0.2,0.2],[47.54,-6.34,0.2,0.3],[47.65,-6.42,0.3,0.2],[47.47,-6.48,0.2,0.2],[47.77,-6.55,0.2,0.2],[47.98,-6.69,0.2,0.2],[48.21,-6.22,0.2,0.3],[48.23,-6.3,0.3,0.2],[48.62,-6.63,0.2,0.3],[47.18,-6.93,0.2,0.2],[46.19,-7.17,0.3,0.2],[46.34,-7.25,0.2,0.2],[46.82,-7.19,0.2,0.3],[47.03,-7.17,0.2,0.2],[47.7,-7.19,0.3,0.2],[44.44,-7.17,0.2,0.2],[44.1,-7.31,0.2,0.2],[44.38,-7.49,0.3,0.2],[44.18,-7.76,0.2,0.2],[43.76,-7.89,0.3,0.2],[43.66,-8.02,0.2,0.2],[45.34,-7.82,0.3,0.2],[47.62,-7.56,0.2,0.2],[48.22,-7.52,0.2,0.2],[48.03,-7.35,0.3,0.2],
[38.99,-7.64,0.3,0.2],[38.87,-7.79,0.3,0.2],[39.51,-7.78,0.3,0.2],[39.96,-7.78,0.3,0.2],[37.96,-8.2,0.2,0.15],[39.94,-8.32,0.2,0.15],[41.74,-8.18,0.3,0.15],[44.95,-8.11,0.2,0.3],[45.06,-8.15,0.2,0.2],[44.09,-8.45,0.3,0.2],[46.99,-8.19,0.2,0.2],[47.03,-8.38,0.2,0.2],[47.43,-8.3,0.2,0.2],[48.0,-8.19,0.2,0.3],[46.6,-8.55,0.2,0.2],[48.02,-8.65,0.3,0.2],[48.52,-8.84,0.2,0.2],[48.22,-9.01,0.2,0.2],[48.37,-9.43,0.4,0.2],[45.0,-8.71,0.2,0.3],[44.59,-9.02,0.2,0.2],[44.9,-8.97,0.2,0.2],[45.37,-9.04,0.2,0.2],[45.7,-9.02,0.2,0.2],[45.42,-9.14,0.2,0.2],[45.24,-9.23,0.2,0.2],[45.34,-9.29,0.2,0.2],[44.59,-9.32,0.3,0.3],[47.21,-9.23,0.2,0.2],[46.65,-9.64,0.2,0.2],[46.76,-10.17,0.2,0.2],
[38.58,-8.65,0.2,0.2],[38.88,-8.72,0.2,0.2],[39.01,-8.82,0.3,0.2],[39.22,-8.57,0.3,0.2],[38.58,-8.97,0.3,0.3],[40.77,-8.65,0.3,0.2],[41.22,-8.59,0.3,0.2],[40.54,-8.89,0.3,0.2],[41.25,-8.95,0.3,0.2],[40.28,-9.11,0.2,0.2],[39.51,-9.24,0.2,0.2],[38.82,-9.45,0.2,0.2],[39.47,-9.54,0.2,0.2],[38.0,-9.35,0.2,0.2],[41.79,-9.17,0.3,0.2],[42.25,-8.98,0.3,0.3],[42.33,-9.23,0.3,0.2],[42.53,-9.16,0.3,0.2],[42.59,-9.26,0.3,0.2],[42.77,-9.06,0.2,0.2],[42.84,-9.08,0.2,0.2],[42.83,-9.39,0.2,0.2],[42.22,-9.47,0.3,0.2],[42.47,-9.52,0.3,0.2],[42.59,-9.59,0.2,0.3],[42.49,-9.69,0.2,0.2],[43.04,-9.62,0.2,0.2],[42.53,-9.68,0.2,0.2],[37.47,-9.66,0.2,0.2],[36.95,-9.86,0.2,0.15],[40.32,-9.74,0.3,0.2],[40.74,-9.73,0.3,0.2],[40.74,-9.82,0.3,0.2],[39.97,-9.9,0.2,0.2],[41.82,-9.84,0.2,0.3],[42.98,-9.86,0.2,0.2],[43.58,-9.82,0.2,0.2],[43.76,-10.02,0.7,0.3],[39.61,-10.13,0.2,0.2],[39.97,-10.06,0.4,0.2],[41.45,-10.06,0.3,0.2],[41.6,-10.09,0.2,0.2],[42.07,-10.2,0.4,0.2],[42.64,-10.22,0.3,0.2],[42.75,-10.3,0.2,0.2],[43.2,-10.14,0.2,0.2],[37.55,-10.5,0.2,0.3],[38.48,-10.46,0.4,0.2],[38.71,-10.38,0.2,0.3],[38.45,-10.63,0.2,0.2],[40.19,-10.42,0.2,0.2],[40.58,-10.42,0.2,0.2],[41.69,-10.47,0.2,0.2],[43.16,-10.5,0.4,0.2],[41.12,-10.61,0.2,0.2],[41.55,-10.63,0.2,0.2],[38.85,-10.86,0.2,0.2],[39.93,-10.83,0.2,0.3],[40.57,-10.85,0.2,0.2],[40.83,-10.97,0.2,0.2],[41.09,-10.86,0.2,0.2],[41.24,-10.83,0.2,0.2],[41.33,-10.83,0.2,0.2],[41.85,-11.09,0.3,0.2],[43.4,-11.2,0.2,0.15],
[53.44,-3.45,0.3,0.25],[49.35,-4.73,0.2,0.15],[52.76,-4.86,0.2,0.15],[51.19,-5.2,0.2,0.15],[48.93,-5.25,0.3,0.3],[49.74,-5.4,0.3,0.3],[50.03,-5.5,0.2,0.3],[50.29,-5.49,0.3,0.3],[49.8,-5.64,0.2,0.2],[48.93,-5.86,0.3,0.2],[49.5,-6.0,0.3,0.2],[50.4,-5.95,0.2,0.2],[50.84,-5.82,0.2,0.2],[50.96,-6.06,0.3,0.3],[51.09,-6.22,0.2,0.2],[51.19,-6.17,0.2,0.2],[51.14,-6.39,0.3,0.2],[51.15,-6.46,0.2,0.2],[49.65,-6.26,0.3,0.2],[49.7,-6.32,0.2,0.2],[50.03,-6.17,0.3,0.2],[50.09,-6.35,0.2,0.2],[49.76,-6.47,0.3,0.2],[49.31,-6.42,0.2,0.2],[49.43,-6.6,0.3,0.2],[49.43,-6.69,0.2,0.2],[49.58,-6.83,0.2,0.3],[49.08,-6.83,0.2,0.2],[50.14,-6.63,0.3,0.2],[50.84,-6.63,0.2,0.2],[51.49,-6.33,0.2,0.2],[51.63,-6.47,0.3,0.2],[51.75,-6.5,0.2,0.2],[51.75,-6.73,0.2,0.2],[51.61,-6.5,0.3,0.2],[52.46,-6.07,0.2,0.2],[52.88,-6.42,0.2,0.2],[53.44,-5.92,0.2,0.3],[53.85,-5.88,0.3,0.2],[54.09,-6.02,0.2,0.3],[53.44,-6.29,0.2,0.3],[53.48,-6.39,0.2,0.2],[53.71,-6.46,0.3,0.2],[54.06,-6.51,0.2,0.2],[54.04,-5.38,0.2,0.2],[54.86,-6.14,0.2,0.3],[55.15,-6.27,0.3,0.2],[56.06,-5.78,0.2,0.2],[56.63,-5.58,0.4,0.3],[56.96,-5.88,0.2,0.3],[56.85,-6.24,0.3,0.2],[56.09,-6.28,0.2,0.2],[59.71,-5.66,0.2,0.2],[60.23,-6.08,0.3,0.3],[60.66,-6.07,0.4,0.2],[61.28,-6.13,0.2,0.2],[60.11,-6.4,0.3,0.2],[60.8,-6.44,0.2,0.2],[60.96,-6.43,0.3,0.2],[60.83,-6.54,0.2,0.3],[61.19,-6.36,0.3,0.2],[61.18,-6.52,0.2,0.3],[61.28,-6.62,0.3,0.2],[61.34,-6.72,0.2,0.3],[61.43,-6.64,0.2,0.2],[61.14,-6.95,0.3,0.2],[62.2,-6.3,0.3,0.2],[62.36,-6.41,0.2,0.2],[62.45,-6.42,0.3,0.2],[62.91,-5.97,0.4,0.2],[63.04,-5.78,0.2,0.2],[62.88,-6.39,0.3,0.3],[62.03,-6.83,0.2,0.2],[62.85,-6.71,0.4,0.3],[62.79,-6.77,0.3,0.2],[63.64,-6.18,0.3,0.2],[63.88,-6.06,0.2,0.4],[63.99,-6.52,0.3,0.2],[64.54,-6.33,0.2,0.3],[64.8,-6.31,0.3,0.3],[64.91,-7.02,0.4,0.3],[65.06,-7.11,0.3,0.3],[66.15,-6.61,0.4,0.2],[61.8,-7.1,0.3,0.3],[61.91,-7.19,0.2,0.2],[61.38,-7.31,0.4,0.3],[61.44,-7.29,0.3,0.2],[61.55,-7.39,0.2,0.2],[61.76,-7.58,0.3,0.3],[61.3,-7.74,0.3,0.3],[63.04,-7.37,0.2,0.3],[62.98,-7.47,0.3,0.2],[63.19,-7.47,0.2,0.2],[62.73,-7.64,0.3,0.2],[60.0,-7.66,0.5,0.2],[58.79,-7.89,0.2,0.2],[59.66,-7.15,0.2,0.2],[58.8,-6.63,0.3,0.2],[59.1,-6.51,0.3,0.3],[58.64,-6.97,0.2,0.3],[58.86,-7.03,0.3,0.2],[58.95,-6.89,0.2,0.2],[59.26,-6.93,0.3,0.2],[59.4,-6.84,0.3,0.2],[58.9,-7.31,0.2,0.2],[58.58,-7.25,0.2,0.2],[57.09,-6.66,0.3,0.3],[57.21,-6.79,0.2,0.2],[57.2,-7.19,0.3,0.2],[56.64,-6.55,0.3,0.2],[56.41,-6.59,0.2,0.3],[56.05,-6.69,0.3,0.3],[56.34,-7.03,0.2,0.2],[56.45,-7.31,0.3,0.2],[56.71,-7.43,0.2,0.2],[56.64,-7.86,0.2,0.3],[55.71,-7.66,0.3,0.2],[55.58,-7.27,0.2,0.2],[55.85,-7.13,0.3,0.2],[55.75,-7.02,0.2,0.2],[55.39,-7.06,0.3,0.2],[55.18,-7.16,0.2,0.2],[54.73,-7.04,0.2,0.2],[56.93,-8.44,0.3,0.2],[57.3,-8.44,0.2,0.2],[57.41,-8.71,0.3,0.2],[57.98,-8.38,0.2,0.2],[56.4,-8.81,0.3,0.2],[56.21,-8.55,0.2,0.2],[55.6,-9.13,0.2,0.2],[55.31,-9.18,0.3,0.2],
[49.95,-7.29,0.2,0.3],[50.33,-7.48,0.3,0.2],[50.25,-7.92,0.2,0.2],[49.73,-7.7,0.3,0.3],[49.05,-8.34,0.2,0.2],[50.18,-8.34,0.2,0.2],[50.24,-8.57,0.2,0.3],[50.55,-8.59,0.3,0.2],[50.81,-8.48,0.2,0.2],[50.86,-8.29,0.2,0.2],[51.09,-8.42,0.3,0.3],[51.18,-8.3,0.2,0.2],[51.21,-8.19,0.2,0.2],[51.26,-8.09,0.2,0.3],[51.15,-7.9,0.3,0.2],[51.14,-7.71,0.2,0.2],[51.18,-7.58,0.2,0.3],[51.03,-7.47,0.3,0.2],[50.81,-8.01,0.3,0.2],[51.4,-7.76,0.3,0.2],[51.36,-8.59,0.2,0.2],[51.45,-8.57,0.3,0.2],[49.93,-8.75,0.3,0.2],[50.83,-8.93,0.3,0.2],[50.9,-8.9,0.2,0.3],[51.19,-8.85,0.3,0.2],[51.21,-7.13,0.4,0.2],[51.63,-7.07,0.2,0.2],[51.93,-7.35,0.3,0.3],[52.09,-7.35,0.2,0.2],[52.0,-7.47,0.3,0.2],[52.08,-7.51,0.2,0.3],[52.13,-7.58,0.2,0.2],[52.01,-7.7,0.3,0.2],[51.96,-7.72,0.2,0.2],[51.74,-7.73,0.2,0.3],[51.84,-7.89,0.3,0.2],[51.88,-7.97,0.2,0.2],[51.94,-8.09,0.2,0.2],[52.16,-6.83,0.3,0.2],[52.15,-6.87,0.2,0.2],[52.65,-6.88,0.2,0.2],[52.41,-7.35,0.3,0.2],[52.8,-7.44,0.2,0.2],[52.9,-7.76,0.3,0.3],[53.04,-7.74,0.2,0.2],[53.29,-7.71,0.3,0.2],[53.34,-7.75,0.2,0.2],[53.03,-7.84,0.2,0.2],[53.0,-7.89,0.3,0.3],[53.3,-7.84,0.2,0.2],[53.49,-7.71,0.3,0.2],[53.64,-7.69,0.2,0.2],[53.59,-7.58,0.3,0.2],[53.28,-7.44,0.2,0.3],[53.48,-7.29,0.3,0.2],[53.64,-6.83,0.2,0.2],[53.03,-6.79,0.3,0.2],[52.39,-8.13,0.2,0.2],[52.54,-8.28,0.2,0.2],[52.88,-8.13,0.3,0.2],[52.93,-8.04,0.2,0.2],[53.9,-7.9,0.2,0.2],[53.65,-8.04,0.3,0.2],[53.53,-8.24,0.2,0.3],[53.76,-8.27,0.3,0.2],[53.75,-8.36,0.2,0.2],[54.11,-8.48,0.3,0.2],[54.23,-8.55,0.2,0.2],[54.3,-8.53,0.2,0.3],[54.49,-8.44,0.3,0.2],[54.69,-8.28,0.2,0.2],[54.98,-8.32,0.3,0.2],[55.03,-8.48,0.2,0.2],[54.93,-8.11,0.2,0.3],[54.95,-7.93,0.3,0.2],[54.94,-7.75,0.2,0.2],[54.9,-7.56,0.2,0.2],[54.71,-7.56,0.3,0.2],[54.46,-7.58,0.2,0.3],[54.39,-7.5,0.3,0.2],[54.3,-7.41,0.2,0.2],[55.03,-7.45,0.3,0.2],[55.04,-7.36,0.2,0.2],[55.01,-7.23,0.2,0.2],[55.11,-7.23,0.3,0.3],[55.26,-7.31,0.2,0.2],[55.53,-7.49,0.3,0.2],[55.5,-7.75,0.2,0.2],[55.51,-7.85,0.2,0.3],[55.36,-8.04,0.3,0.2],[55.5,-8.3,0.2,0.2],[55.83,-7.55,0.3,0.2],[55.81,-7.34,0.2,0.2],[55.65,-7.24,0.3,0.3],[55.71,-7.03,0.2,0.2],[56.03,-7.86,0.3,0.2],[55.91,-8.17,0.2,0.2],[54.68,-8.68,0.3,0.2],[54.96,-8.69,0.2,0.2],[54.96,-8.85,0.2,0.2],[54.69,-9.01,0.3,0.2],[54.25,-8.88,0.2,0.3],[54.19,-8.95,0.3,0.2],[53.95,-8.93,0.2,0.2],[53.59,-9.82,0.4,0.15],[53.31,-9.45,0.2,0.2],[52.76,-9.31,0.2,0.2],[52.8,-9.26,0.3,0.2],[52.94,-9.03,0.2,0.2],[52.25,-9.16,0.2,0.2],[52.3,-9.1,0.2,0.2],[53.86,-6.88,0.3,0.2],[54.11,-6.89,0.2,0.2],[54.43,-6.84,0.3,0.2],[54.7,-6.69,0.2,0.3],[55.01,-6.81,0.3,0.2],[55.25,-6.75,0.2,0.2],[55.36,-6.62,0.3,0.2],[55.58,-6.69,0.2,0.2],[55.31,-6.79,0.2,0.2],[54.4,-7.03,0.3,0.2],[54.18,-6.93,0.2,0.2]
];
const zwFitX = [31, 50, 67];
const zwFit = [-8.23, -7.22, -6.31];
const zwFitHi = [-8.08, -7.20, -6.18];
const zwFitLo = [-8.37, -7.24, -6.45];

// gradient annotations (values and anchors in data units)
const gradientValues = ['0.053', '0.098', '0.054'];
const gradientPlus = ['+0.007', '+0.007', '+0.008'];
const gradientMinus = ['\u22120.007', '\u22120.008', '\u22120.008'];
const annotAnchor = [[100, 0], [-28, -13.5], [45, -11.8]];

const xNames = ['X (pc)', 'Y (pc)', 'Z (pc)'];
const yNames = ['U (km/s)', 'V (km/s)', 'W (km/s)'];

const GRID_LEFT = 121.4;
const GRID_RIGHT = 7;
const GRID_TOPS = [18, 613.4, 1218.2];
const GRID_HEIGHTS = [503.6, 502.5, 504.1];

const fmt = (v: number) => String(v).replace('-', '\u2212');

export default function App() {
  const ref = useRef<HTMLDivElement>(null);
  useEffect(() => {
    document.body.style.margin = '0';
    if (!ref.current) return;
    const chart = echarts.init(ref.current, undefined, { renderer: 'svg' });

    const panels = [
      { data: xuData, fx: xuFitX, f: xuFit, hi: xuFitHi, lo: xuFitLo,
        x: { min: 95, max: 165, splitNumber: 7 }, y: { min: -12, max: 4, interval: 2 }, yEdge: true },
      { data: yvData, fx: yvFitX, f: yvFit, hi: yvFitHi, lo: yvFitLo,
        x: { min: -29, max: -4, splitNumber: 5 }, y: { min: -19.3, max: -12.6, splitNumber: 7 }, yEdge: false },
      { data: zwData, fx: zwFitX, f: zwFit, hi: zwFitHi, lo: zwFitLo,
        x: { min: 31, max: 67, splitNumber: 7 }, y: { min: -12, max: -2, interval: 2 }, yEdge: true },
    ];

    const grid = panels.map((_, i) => ({
      left: GRID_LEFT, right: GRID_RIGHT, top: GRID_TOPS[i], height: GRID_HEIGHTS[i],
      show: true, borderColor: '#b0b0b0', borderWidth: 1, backgroundColor: 'transparent',
    }));

    const xAxis = panels.map((p, i) => ({
      type: 'value', gridIndex: i, ...p.x,
      axisLine: { show: false }, axisTick: { show: false },
      splitLine: { show: true, lineStyle: { color: '#b0b0b0', width: 1 } },
      axisLabel: { color: '#555555', fontSize: 28, fontFamily: FONT, margin: 6,
        showMinLabel: false, showMaxLabel: false, formatter: fmt },
      name: xNames[i], nameLocation: 'middle', nameGap: 37,
      nameTextStyle: { fontSize: 40, color: '#000', fontFamily: FONT },
    }));

    const yAxis = panels.map((p, i) => ({
      type: 'value', gridIndex: i, ...p.y,
      axisLine: { show: false }, axisTick: { show: false },
      splitLine: { show: true, lineStyle: { color: '#b0b0b0', width: 1 } },
      axisLabel: { color: '#555555', fontSize: 28, fontFamily: FONT, margin: 9,
        showMinLabel: p.yEdge, showMaxLabel: p.yEdge, formatter: fmt },
      name: yNames[i], nameLocation: 'middle', nameGap: 75,
      nameTextStyle: { fontSize: 40, color: '#000', fontFamily: FONT },
    }));

    const series: any[] = [];
    panels.forEach((p, i) => {
      series.push({
        type: 'custom', xAxisIndex: i, yAxisIndex: i, data: p.data,
        encode: { x: 0, y: 1 }, clip: true, z: 1, silent: true,
        renderItem: (params: any, api: any) => {
          const x = api.value(0), y = api.value(1), ex = api.value(2), ey = api.value(3);
          const l = api.coord([x - ex, y]);
          const r = api.coord([x + ex, y]);
          const t = api.coord([x, y + ey]);
          const b = api.coord([x, y - ey]);
          const st = { stroke: 'rgba(140,140,140,0.42)', lineWidth: 1.6 };
          return {
            type: 'group',
            children: [
              { type: 'line', shape: { x1: l[0], y1: l[1], x2: r[0], y2: r[1] }, style: st },
              { type: 'line', shape: { x1: t[0], y1: t[1], x2: b[0], y2: b[1] }, style: st },
            ],
          };
        },
      });
      series.push({
        type: 'scatter', xAxisIndex: i, yAxisIndex: i, z: 2, silent: true,
        symbol: 'circle', symbolSize: 8, itemStyle: { color: '#000' },
        data: p.data.map((d) => [d[0], d[1]]),
      });
      const mk = (ys: number[], dashed: boolean) => ({
        type: 'line', xAxisIndex: i, yAxisIndex: i, z: 3, silent: true,
        symbol: 'none', showSymbol: false, clip: true,
        lineStyle: { color: '#ff0000', width: dashed ? 1.8 : 2, type: dashed ? [7, 3.5] : 'solid' },
        data: p.fx.map((x, k) => [x, ys[k]]),
      });
      series.push(mk(p.f, false));
      series.push(mk(p.hi, true));
      series.push(mk(p.lo, true));
    });

    chart.setOption({ animation: false, grid, xAxis, yAxis, series });

    const ctx = document.createElement('canvas').getContext('2d')!;
    const measure = (t: string, size: number) => {
      ctx.font = `${size}px "${FONT}"`;
      return ctx.measureText(t).width;
    };
    const elements: any[] = [];
    annotAnchor.forEach((a, i) => {
      const pt = chart.convertToPixel({ gridIndex: i }, a) as number[];
      const x0 = pt[0] - 5;
      const base = `Gradient = ${gradientValues[i]}`;
      const w0 = measure(base, 30);
      const sx = x0 + w0 + 4;
      const ws = Math.max(measure(gradientPlus[i], 21), measure(gradientMinus[i], 21));
      const mid30 = 8.9, mid21 = 6.2;
      const bigStyle = { font: `30px "${FONT}"`, fill: '#000', align: 'left', verticalAlign: 'middle', lineHeight: 30 };
      const smallStyle = { font: `21px "${FONT}"`, fill: '#000', align: 'left', verticalAlign: 'middle', lineHeight: 14 };
      elements.push({ type: 'text', z: 100, x: x0, y: pt[1] - mid30, style: { ...bigStyle, text: base } });
      elements.push({ type: 'text', z: 100, x: sx, y: pt[1] - 11 - mid21, style: { ...smallStyle, text: gradientPlus[i] } });
      elements.push({ type: 'text', z: 100, x: sx, y: pt[1] + 10 - mid21, style: { ...smallStyle, text: gradientMinus[i] } });
      elements.push({ type: 'text', z: 100, x: sx + ws + 11, y: pt[1] - mid30, style: { ...bigStyle, text: 'km/s/pc' } });
    });
    chart.setOption({ graphic: { elements } });

    return () => chart.dispose();
  }, []);
  return <div ref={ref} style={{ width: 1088, height: 1808 }} />;
}
